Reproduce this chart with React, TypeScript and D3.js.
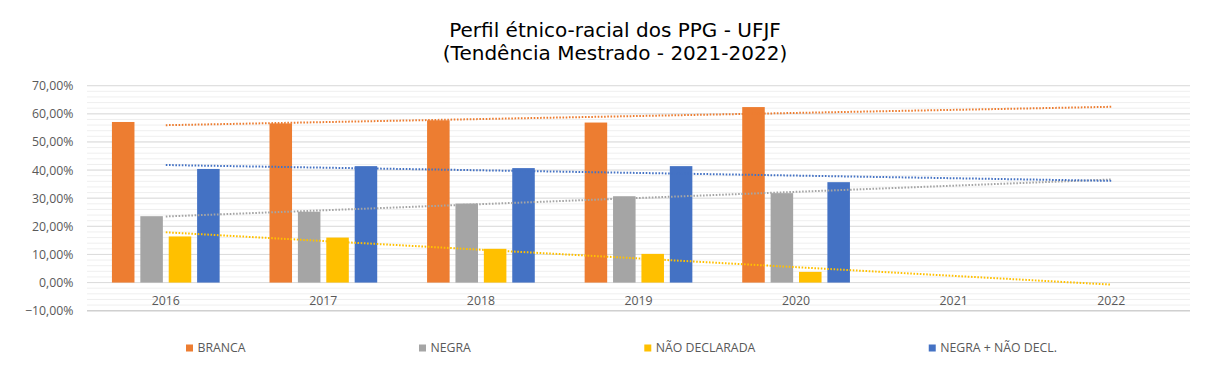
import React, { useMemo } from "react";
import * as d3 from "d3";

const categories = ["2016", "2017", "2018", "2019", "2020", "2021", "2022"];
const seriesNames = ["BRANCA", "NEGRA", "NÃO DECLARADA", "NEGRA + NÃO DECL."];
const seriesColors = ["#ED7D31", "#A5A5A5", "#FFC000", "#4472C4"];
const branca = [57.1, 56.6, 57.7, 56.9, 62.4];
const negra = [23.6, 25.2, 28.1, 30.7, 31.8];
const naoDeclarada = [16.4, 16.0, 12.0, 10.2, 3.8];
const negraNaoDecl = [40.4, 41.4, 40.7, 41.4, 35.7];
const seriesValues = [branca, negra, naoDeclarada, negraNaoDecl];
const yTicks = [-10, 0, 10, 20, 30, 40, 50, 60, 70];
const titleLines = ["Perfil étnico-racial dos PPG - UFJF", "(Tendência Mestrado - 2021-2022)"];

const W = 1206;
const H = 380;
const plot = { left: 87, right: 1190, top: 85.7, bottom: 310.7 };
const FONT = "'Open Sans', 'Liberation Sans', sans-serif";
const LEGEND_FS = 12.3;

function linReg(vals: number[]) {
  const xs = vals.map((_, i) => i);
  const mx = d3.mean(xs) as number;
  const my = d3.mean(vals) as number;
  let num = 0, den = 0;
  xs.forEach((x, i) => { num += (x - mx) * (vals[i] - my); den += (x - mx) * (x - mx); });
  const slope = num / den;
  return (i: number) => my + slope * (i - mx);
}

const locale = d3.formatLocale({ decimal: ",", thousands: ".", grouping: [3], currency: ["R$", ""] });
const fmt = (v: number) => locale.format(".2f")(v) + "%";

export default function App() {
  const x = d3.scaleBand<string>().domain(categories).range([plot.left, plot.right]).padding(0);
  const y = d3.scaleLinear().domain([-10, 70]).range([plot.bottom, plot.top]);
  const bw = x.bandwidth();
  const barW = bw * 0.143;
  const step = barW * 1.26;

  const minorTicks = d3.range(-10, 70.001, 2);

  const legendLayout = useMemo(() => {
    const canvas = document.createElement("canvas");
    const ctx = canvas.getContext("2d")!;
    ctx.font = `${LEGEND_FS}px ${FONT}`;
    const widths = seriesNames.map((s) => ctx.measureText(s).width);
    const start = 186;
    const end = 1057;
    const used = widths.reduce((a, w) => a + 7 + 4.5 + w, 0);
    const gap = (end - start - used) / (seriesNames.length - 1);
    let cur = start;
    return widths.map((w) => {
      const pos = cur;
      cur += 7 + 4.5 + w + gap;
      return pos;
    });
  }, []);

  const line = d3.line<[number, number]>().x((d) => d[0]).y((d) => d[1]);

  return (
    <svg width={W} height={H} style={{ position: "absolute", left: 0, top: 0, background: "#fff" }}>
      <rect width={W} height={H} fill="#fff" />
      {titleLines.map((t, i) => (
        <text key={t} x={615} y={37 + i * 23} textAnchor="middle" fontFamily="'DejaVu Sans', sans-serif" fontSize={20} fill="#000">
          {t}
        </text>
      ))}
      {minorTicks.map((t) => (
        <line key={"m" + t} x1={plot.left} x2={plot.right} y1={y(t)} y2={y(t)} stroke="#efefef" strokeWidth={1} />
      ))}
      {yTicks.map((t) => (
        <line key={"g" + t} x1={plot.left} x2={plot.right} y1={y(t)} y2={y(t)} stroke={t === -10 ? "#d0d0d0" : "#dcdcdc"} strokeWidth={t === -10 ? 1.5 : 1} />
      ))}
      {yTicks.map((t) => (
        <text key={"yl" + t} x={73.5} y={y(t)} dy="0.36em" textAnchor="end" fontFamily={FONT} fontSize={12.3} fill="#595959">
          {fmt(t)}
        </text>
      ))}
      {categories.map((c) => (
        <text key={"xl" + c} x={(x(c) as number) + bw / 2} y={300.5} dy="0.36em" textAnchor="middle" fontFamily={FONT} fontSize={12.3} fill="#595959">
          {c}
        </text>
      ))}
      {seriesValues.map((vals, si) =>
        vals.map((v, i) => {
          const cx = (x(categories[i]) as number) + bw / 2 + (si - 1.5) * step;
          return (
            <rect key={`b${si}-${i}`} x={cx - barW / 2} y={y(Math.max(0, v))} width={barW} height={Math.abs(y(v) - y(0))} fill={seriesColors[si]} />
          );
        })
      )}
      {seriesValues.map((vals, si) => {
        const f = linReg(vals);
        const pts: [number, number][] = [0, categories.length - 1].map((i) => [
          (x(categories[i]) as number) + bw / 2,
          y(f(i)),
        ]);
        return (
          <path key={"t" + si} d={line(pts) || ""} fill="none" stroke={seriesColors[si]} strokeWidth={2} strokeDasharray="1.6 1.6" />
        );
      })}
      {seriesNames.map((s, i) => (
        <g key={"lg" + s} transform={`translate(${legendLayout[i]},348)`}>
          <rect x={0} y={-3.5} width={7} height={7} fill={seriesColors[i]} />
          <text x={11.5} y={0} dy="0.36em" fontFamily={FONT} fontSize={LEGEND_FS} fill="#595959">
            {s}
          </text>
        </g>
      ))}
    </svg>
  );
}
